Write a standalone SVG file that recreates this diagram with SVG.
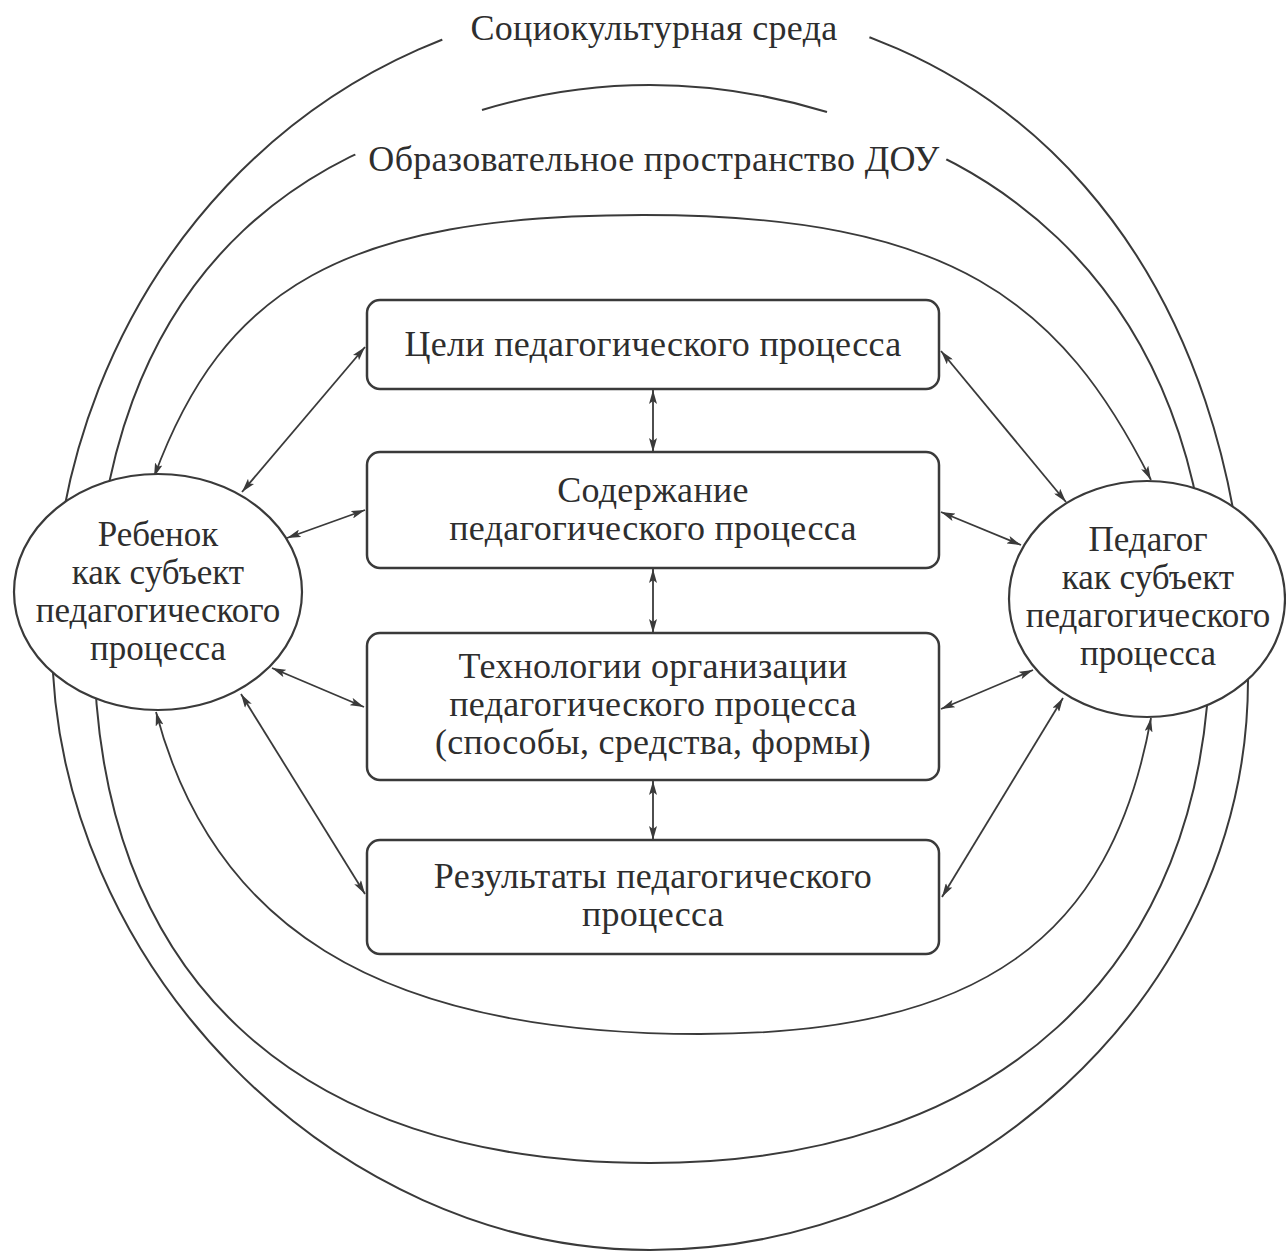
<svg xmlns="http://www.w3.org/2000/svg" width="1286" height="1254" viewBox="0 0 1286 1254">
<style>
.ring{fill:none;stroke:#3a3a3a;stroke-width:2}
.arr{fill:none;stroke:#3a3a3a;stroke-width:1.8;marker-start:url(#ah);marker-end:url(#ah)}
.box{fill:#fff;stroke:#3a3a3a;stroke-width:2.5}
.node{fill:#fff;stroke:#3a3a3a;stroke-width:2.2}
text{font-family:"Liberation Serif","Times New Roman",serif;font-size:36px;fill:#2e2e2e;text-anchor:middle;letter-spacing:0.3px}
.nt{font-size:35px;letter-spacing:0}
</style>
<defs>
<marker id="ah" viewBox="0 0 14 8" refX="14" refY="4" markerWidth="14" markerHeight="8" markerUnits="userSpaceOnUse" orient="auto-start-reverse">
<path d="M0,0 L14,4 L0,8 L3,4 z" fill="#3a3a3a"/>
</marker>
<clipPath id="gap1"><path clip-rule="evenodd" d="M-20 -80 H1306 V1274 H-20 Z M652 600 L405 -60 L907 -60 Z"/></clipPath>
<clipPath id="gap2"><path clip-rule="evenodd" d="M-20 -80 H1306 V1274 H-20 Z M652 620 L225 -50 L1080 -50 Z"/></clipPath>
</defs>
<rect width="1286" height="1254" fill="#fff"/>
<g id="rings">
<path class="ring" clip-path="url(#gap1)" d="M52 640 C52 282, 317 0, 655 0 C1010 0, 1248 270, 1248 680 C1248 1000, 960 1250, 650 1250 C333 1250, 52 963, 52 640 Z"/>
<path class="ring" clip-path="url(#gap2)" d="M94 640 C94 275, 306 95, 652 95 C990 95, 1210 295, 1210 640 C1210 975, 990 1163, 650 1163 C294 1163, 94 975, 94 640 Z"/>
<path class="ring" d="M482 110 Q652 59 827 112"/>
<text x="654" y="40">Социокультурная среда</text>
<text x="654" y="171">Образовательное пространство ДОУ</text>
</g>
<g id="connectors">
<path class="arr" d="M154 477 C223 289, 343 215, 643 215 C953 215, 1061 302, 1151 480"/>
<path class="arr" d="M156 712 C211 920, 370 1034, 700 1034 C980 1034, 1111 939, 1151 718"/>
<line class="arr" x1="242" y1="492" x2="365" y2="347"/>
<line class="arr" x1="287" y1="538" x2="365" y2="510"/>
<line class="arr" x1="272" y1="668" x2="364" y2="707"/>
<line class="arr" x1="241" y1="694" x2="365" y2="894"/>
<line class="arr" x1="941" y1="351" x2="1066" y2="502"/>
<line class="arr" x1="941" y1="512" x2="1021" y2="545"/>
<line class="arr" x1="941" y1="709" x2="1033" y2="670"/>
<line class="arr" x1="942" y1="897" x2="1063" y2="698"/>
<line class="arr" x1="653" y1="390" x2="653" y2="452"/>
<line class="arr" x1="653" y1="569" x2="653" y2="633"/>
<line class="arr" x1="653" y1="781" x2="653" y2="840"/>
</g>
<g id="node-child">
<ellipse class="node" cx="158" cy="592" rx="144" ry="118"/>
<text class="nt" x="158" y="546">Ребенок</text>
<text class="nt" x="158" y="584">как субъект</text>
<text class="nt" x="158" y="622">педагогического</text>
<text class="nt" x="158" y="660">процесса</text>
</g>
<g id="node-teacher">
<ellipse class="node" cx="1147" cy="599" rx="138" ry="118"/>
<text class="nt" x="1148" y="551">Педагог</text>
<text class="nt" x="1148" y="589">как субъект</text>
<text class="nt" x="1148" y="627">педагогического</text>
<text class="nt" x="1148" y="665">процесса</text>
</g>
<g id="box-goals">
<rect class="box" x="367" y="300" width="572" height="89" rx="13"/>
<text x="653" y="356">Цели педагогического процесса</text>
</g>
<g id="box-content">
<rect class="box" x="367" y="452" width="572" height="116" rx="13"/>
<text x="653" y="502">Содержание</text>
<text x="653" y="540">педагогического процесса</text>
</g>
<g id="box-tech">
<rect class="box" x="367" y="633" width="572" height="147" rx="13"/>
<text x="653" y="678">Технологии организации</text>
<text x="653" y="716">педагогического процесса</text>
<text x="653" y="754">(способы, средства, формы)</text>
</g>
<g id="box-results">
<rect class="box" x="367" y="840" width="572" height="114" rx="13"/>
<text x="653" y="888">Результаты педагогического</text>
<text x="653" y="926">процесса</text>
</g>
</svg>
